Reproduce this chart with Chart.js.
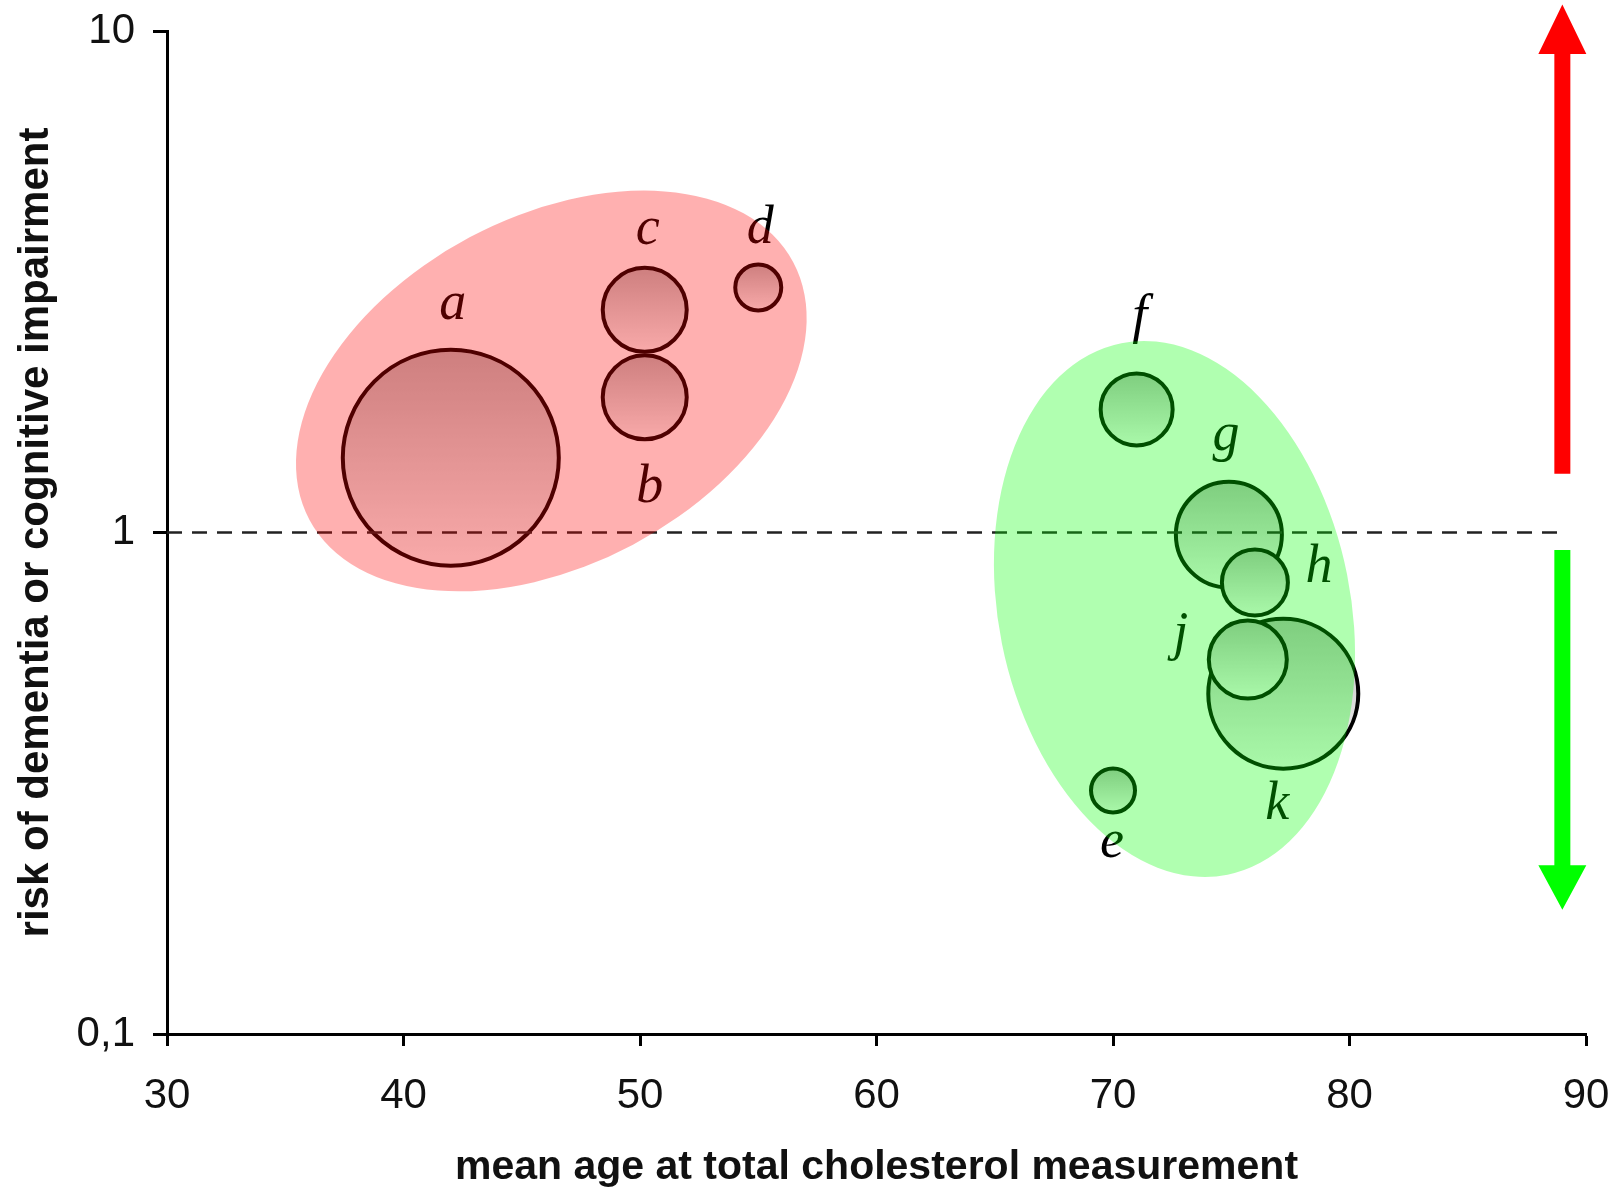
<!DOCTYPE html>
<html>
<head>
<meta charset="utf-8">
<script src="https://cdn.jsdelivr.net/npm/chart.js@4.4.1/dist/chart.umd.min.js"></script>
<style>
  body { margin: 0; background: #fff; }
</style>
</head>
<body>
<canvas id="bubble-chart" width="1612" height="1192"></canvas>
<script>
// study labels, mean age at cholesterol measurement, relative risk, bubble size
const studies = ['a', 'b', 'c', 'd', 'e', 'f', 'g', 'h', 'k', 'j'];
const meanAge = [42.0, 50.2, 50.2, 55.0, 70.0, 71.0, 74.9, 76.0, 77.2, 75.7];
const risk = [1.41, 1.86, 2.78, 3.08, 0.306, 1.76, 0.99, 0.795, 0.477, 0.558];
const bubbleSize = [108, 42, 42, 23, 22, 36, 53, 33, 75, 39];

const xTicks = [30, 40, 50, 60, 70, 80, 90];
const yTicks = [0.1, 1, 10];
const yTickLabels = ['0,1', '1', '10'];

// where each letter sits relative to its bubble (px)
const labelDx = [2, 5, 3, 2, -1, 3, -3, 64, -6, -67];
const labelDy = [-139, 105, -66, -44, 67, -77, -85, 0, 125, -11];

const chartCanvas = document.querySelector('#bubble-chart');

// big bubbles would otherwise push the plot area inwards
Chart.controllers.bubble.prototype.getMaxOverflow = function () { return false; };

const noOverhang = (s) => {
    s.paddingLeft = 0; s.paddingRight = 0; s.paddingTop = 0; s.paddingBottom = 0;
};

const overlayPlugin = {
    id: 'overlay',
    afterDatasetsDraw(chart) {
        const ctx = chart.ctx;
        const x = chart.scales.x, y = chart.scales.y;
        // dashed reference line at risk = 1
        ctx.save();
        ctx.strokeStyle = '#222';
        ctx.lineWidth = 2.5;
        ctx.setLineDash([15, 10]);
        ctx.beginPath();
        ctx.moveTo(x.getPixelForValue(30), y.getPixelForValue(1));
        ctx.lineTo(x.getPixelForValue(89), y.getPixelForValue(1));
        ctx.stroke();
        ctx.restore();

        // letters
        const meta = chart.getDatasetMeta(0);
        ctx.save();
        ctx.fillStyle = '#000';
        ctx.font = 'italic 54px "Liberation Serif"';
        ctx.textAlign = 'center';
        ctx.textBaseline = 'alphabetic';
        meta.data.forEach((pt, i) => {
            ctx.fillText(studies[i], pt.x + labelDx[i], pt.y + labelDy[i]);
        });
        ctx.restore();
    },
    afterDraw(chart) {
        const ctx = chart.ctx;
        const x = chart.scales.x, y = chart.scales.y;
        // translucent highlight ellipses laid over everything
        ctx.save();
        ctx.fillStyle = 'rgba(255,0,0,0.31)';
        ctx.beginPath();
        ctx.ellipse(x.getPixelForValue(46.25), y.getPixelForValue(1.915), 274, 174, -28 * Math.PI / 180, 0, Math.PI * 2);
        ctx.fill();
        ctx.fillStyle = 'rgba(0,255,0,0.31)';
        ctx.beginPath();
        ctx.ellipse(x.getPixelForValue(72.6), y.getPixelForValue(0.704), 176, 271, -11.3 * Math.PI / 180, 0, Math.PI * 2);
        ctx.fill();
        ctx.restore();

        // arrows
        const ax = x.getPixelForValue(89);
        const drawArrow = (from, base, tip, color) => {
            const y0 = y.getPixelForValue(from);
            const y1 = y.getPixelForValue(base);
            const y2 = y.getPixelForValue(tip);
            ctx.save();
            ctx.fillStyle = color;
            ctx.beginPath();
            ctx.moveTo(ax - 8, y0);
            ctx.lineTo(ax - 8, y1);
            ctx.lineTo(ax - 24, y1);
            ctx.lineTo(ax, y2);
            ctx.lineTo(ax + 24, y1);
            ctx.lineTo(ax + 8, y1);
            ctx.lineTo(ax + 8, y0);
            ctx.closePath();
            ctx.fill();
            ctx.restore();
        };
        drawArrow(1.31, 9.0, 11.3, '#ff0000');
        drawArrow(0.923, 0.217, 0.177, '#00ff00');
    }
};

new Chart(chartCanvas.getContext('2d'), {
    type: 'bubble',
    data: {
        datasets: [{
            data: studies.map((s, i) => ({ x: meanAge[i], y: risk[i], r: bubbleSize[i] })),
            borderColor: '#000',
            borderWidth: 4,
            backgroundColor(c) {
                const chart = c.chart;
                const sy = chart.scales.y;
                if (c.type !== 'data' || !sy) return '#ddd';
                const cy = sy.getPixelForValue(c.raw.y);
                const r = c.raw.r;
                if (!isFinite(cy)) return '#ddd';
                const g = chart.ctx.createLinearGradient(0, cy - r, 0, cy + r);
                g.addColorStop(0, 'rgb(184,184,184)');
                g.addColorStop(1, 'rgb(246,246,246)');
                return g;
            },
            clip: false
        }]
    },
    options: {
        responsive: false,
        animation: false,
        events: [],
        layout: { padding: { top: 31, right: 26, left: 0, bottom: 0 } },
        plugins: { legend: { display: false }, tooltip: { enabled: false } },
        scales: {
            x: {
                type: 'linear',
                min: 30,
                max: 90,
                afterBuildTicks(s) { s.ticks = xTicks.map(v => ({ value: v })); },
                afterFit(s) { s.height = 158; noOverhang(s); },
                grid: { drawOnChartArea: false, drawTicks: true, tickLength: 12, tickWidth: 3, tickColor: '#000' },
                border: { color: '#000', width: 3 },
                ticks: { color: '#111', font: { family: '"Liberation Sans"', size: 42 }, padding: 25, maxRotation: 0 },
                title: {
                    display: true,
                    text: 'mean age at total cholesterol measurement',
                    color: '#111',
                    font: { family: '"Liberation Sans"', size: 41, weight: 'bold' },
                    padding: { top: 2, bottom: 0 }
                }
            },
            y: {
                type: 'logarithmic',
                min: 0.1,
                max: 10,
                afterBuildTicks(s) { s.ticks = yTicks.map(v => ({ value: v })); },
                afterFit(s) { s.width = 167; noOverhang(s); },
                grid: { drawOnChartArea: false, drawTicks: true, tickLength: 14, tickWidth: 3, tickColor: '#000' },
                border: { color: '#000', width: 3 },
                ticks: {
                    color: '#111',
                    font: { family: '"Liberation Sans"', size: 42 },
                    padding: 18,
                    callback: (v) => yTickLabels[yTicks.indexOf(v)] ?? ''
                },
                title: {
                    display: true,
                    text: 'risk of dementia or cognitive impairment',
                    color: '#111',
                    font: { family: '"Liberation Sans"', size: 42, weight: 'bold' },
                    padding: { top: 11, bottom: 0 }
                }
            }
        }
    },
    plugins: [overlayPlugin]
});
</script>
</body>
</html>
